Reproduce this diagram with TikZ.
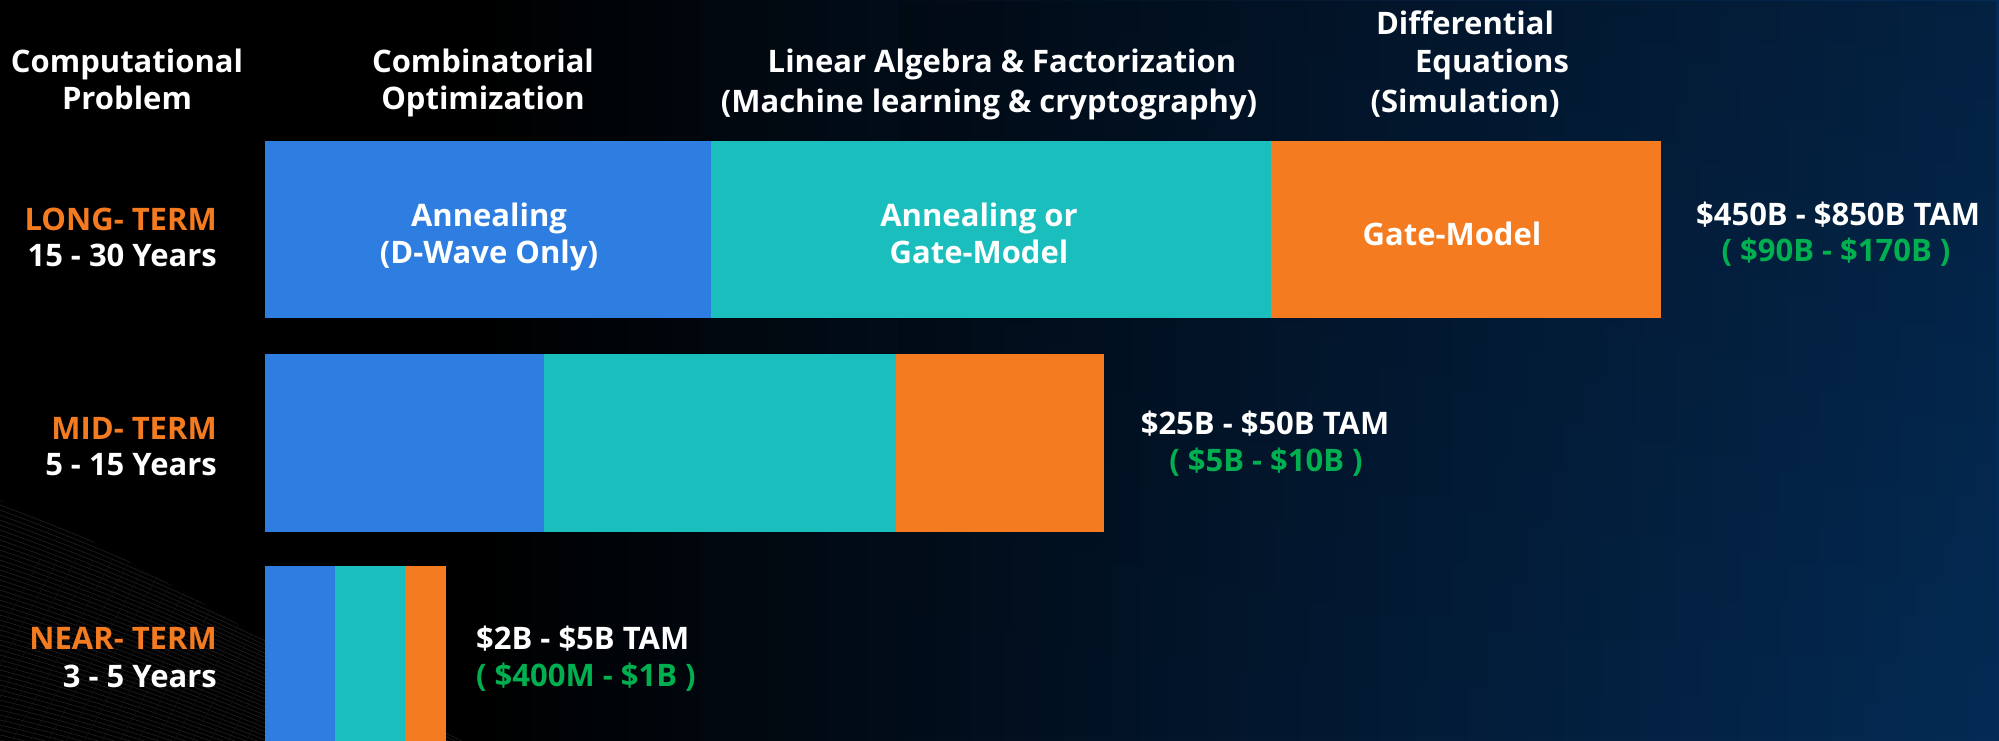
\documentclass[tikz,border=0pt]{standalone}
\usepackage{fontspec}
\setmainfont{Open Sans}
\usetikzlibrary{fadings}
\definecolor{cblue}{RGB}{46,125,225}
\definecolor{cteal}{RGB}{26,190,189}
\definecolor{corange}{RGB}{244,123,32}
\definecolor{cgreen}{RGB}{0,176,80}
\definecolor{bgA}{RGB}{3,26,52}
\definecolor{bgB}{RGB}{6,70,136}
\definecolor{mesh}{RGB}{30,30,32}
\pgfdeclarehorizontalshading{bgshade}{100bp}{color(0bp)=(black); color(37bp)=(black); color(59bp)=(bgA); color(100bp)=(bgB)}
\tikzset{
  txt/.style={font=\bfseries\fontsize{31}{38}\selectfont, inner sep=0pt, anchor=base},
  hdr/.style={txt, text=white},
  term/.style={txt, text=corange, anchor=base east},
  yrs/.style={txt, text=white, anchor=base east},
  seg/.style={inner sep=0pt, anchor=north west},
  segtxt/.style={txt, text=white},
  tam/.style={txt, text=white},
  tamg/.style={txt, text=cgreen},
}
\begin{document}
\begin{tikzpicture}[x=1pt, y=-1pt]
\useasboundingbox (0,0) rectangle (1999,741);
% background
\shade[shading=bgshade] (0,0) rectangle (1999,741);
\fill[black, fill opacity=0.22, path fading=south] (900,0) rectangle (1999,741);
% mesh texture bottom-left
\begin{scope}
\clip (0,500) -- (90,540) -- (180,590) -- (265,640) -- (520,770) -- (0,770) -- cycle;
\foreach \i in {0,...,50}{
  \draw[mesh, line width=0.7pt] (0,{500+\i*5}) .. controls (160,{560+\i*4.5}) and (320,{640+\i*4}) .. (540,{760+\i*3});
}
\foreach \i in {0,...,30}{
  \draw[mesh!60!black, line width=0.5pt] ({-60+\i*18},741) -- ({\i*18+40},560);
}
\end{scope}
% headers
\node[hdr] (h1a) at (127,73) {Computational};
\node[hdr] (h1b) at (127,110) {Problem};
\node[hdr] (h2a) at (483,73) {Combinatorial};
\node[hdr] (h2b) at (483,110) {Optimization};
\node[hdr] (h3a) at (1002,73) {Linear Algebra \& Factorization};
\node[hdr] (h3b) at (989,113) {(Machine learning \& cryptography)};
\node[hdr] (h4a) at (1465,35) {Differential};
\node[hdr] (h4b) at (1492,73) {Equations};
\node[hdr] (h4c) at (1465,113) {(Simulation)};
% left labels
\node[term] (lt) at (217,230) {LONG- TERM};
\node[yrs] (ly) at (217,266) {15 - 30 Years};
\node[term] (mt) at (217,439) {MID- TERM};
\node[yrs] (my) at (217,475) {5 - 15 Years};
\node[term] (nt) at (217,649) {NEAR- TERM};
\node[yrs] (ny) at (217,687) {3 - 5 Years};
% long-term bar
\node[seg, fill=cblue, minimum width=446pt, minimum height=177pt] (l1) at (265,141) {};
\node[seg, fill=cteal, minimum width=560pt, minimum height=177pt] (l2) at (711,141) {};
\node[seg, fill=corange, minimum width=390pt, minimum height=177pt] (l3) at (1271,141) {};
\node[segtxt] (l1a) at (489,226) {Annealing};
\node[segtxt] (l1b) at (489,263) {(D-Wave Only)};
\node[segtxt] (l2a) at (979,226) {Annealing or};
\node[segtxt] (l2b) at (979,263) {Gate-Model};
\node[segtxt] (l3a) at (1452,245) {Gate-Model};
% mid-term bar
\node[seg, fill=cblue, minimum width=279pt, minimum height=178pt] (m1) at (265,354) {};
\node[seg, fill=cteal, minimum width=352pt, minimum height=178pt] (m2) at (544,354) {};
\node[seg, fill=corange, minimum width=208pt, minimum height=178pt] (m3) at (896,354) {};
% near-term bar
\node[seg, fill=cblue, minimum width=70pt, minimum height=175pt] (n1) at (265,566) {};
\node[seg, fill=cteal, minimum width=70pt, minimum height=175pt] (n2) at (335,566) {};
\node[seg, fill=corange, minimum width=41pt, minimum height=175pt] (n3) at (405,566) {};
% TAM labels
\node[tam] (t1) at (1838,225) {\$450B - \$850B TAM};
\node[tamg] (g1) at (1836,261) {( \$90B - \$170B )};
\node[tam] (t2) at (1265,434) {\$25B - \$50B TAM};
\node[tamg] (g2) at (1266,471) {( \$5B - \$10B )};
\node[tam, anchor=base west] (t3) at (476,649) {\$2B - \$5B TAM};
\node[tamg, anchor=base west] (g3) at (476,686) {( \$400M - \$1B )};
\end{tikzpicture}
\end{document}
